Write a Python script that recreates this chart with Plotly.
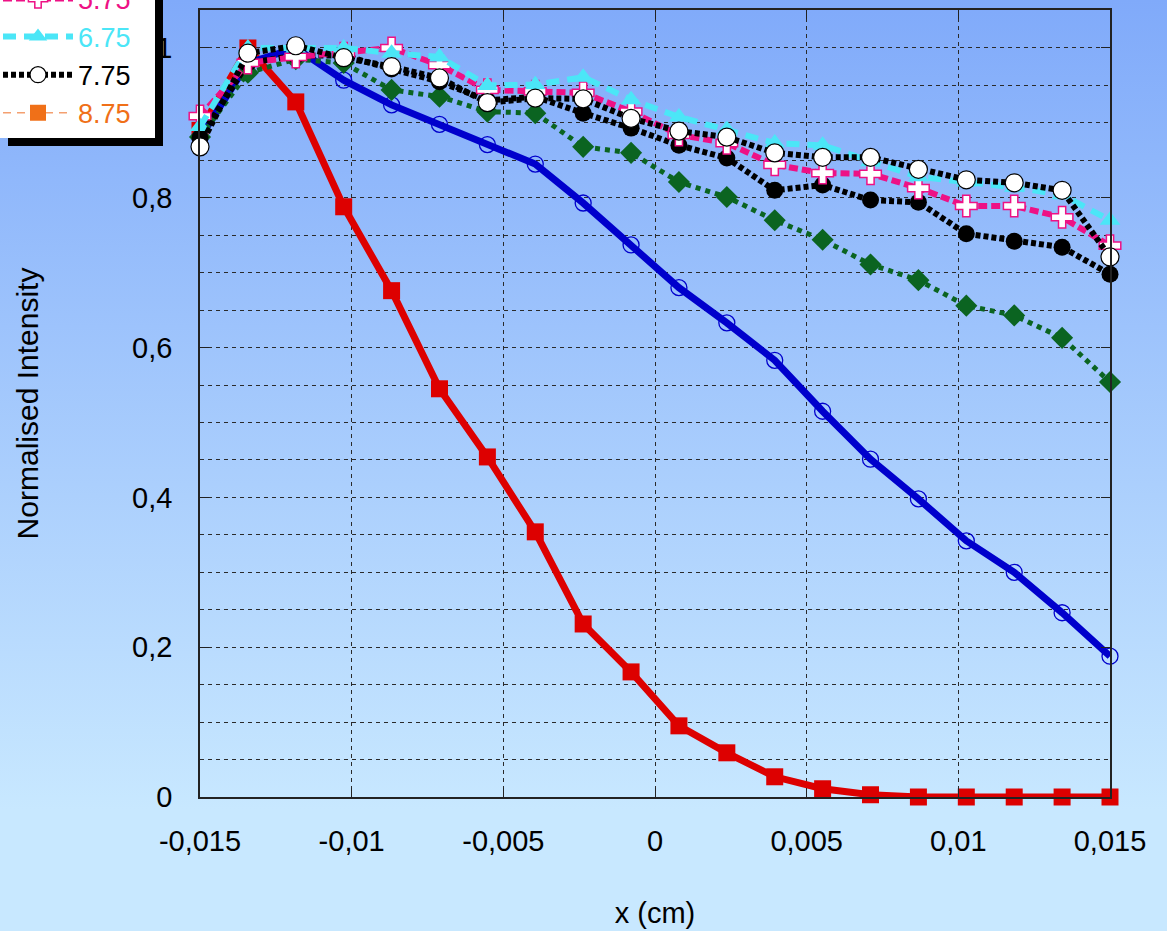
import base64
import plotly.graph_objects as go

# ---------------- data ----------------
x_cm = [-0.015, -0.013421, -0.011842, -0.010263, -0.008684, -0.007105, -0.005526,
        -0.003947, -0.002368, -0.000789, 0.000789, 0.002368, 0.003947, 0.005526,
        0.007105, 0.008684, 0.010263, 0.011842, 0.013421, 0.015]

series_names = ["1.75", "2.75", "3.75", "4.75", "5.75", "6.75", "7.75", "8.75"]

s_175 = [0.89, 1.0, 0.928, 0.788, 0.676, 0.545, 0.454, 0.354, 0.231, 0.167,
         0.095, 0.059, 0.027, 0.011, 0.003, 0.0, 0.0, 0.0, 0.0, 0.0]
s_275 = [0.88, 0.98, 1.0, 0.957, 0.924, 0.898, 0.871, 0.845, 0.793, 0.737,
         0.680, 0.633, 0.583, 0.515, 0.451, 0.398, 0.342, 0.300, 0.246, 0.188]
s_375 = [0.881, 0.967, 0.985, 0.98, 0.944, 0.935, 0.915, 0.913, 0.868, 0.860,
         0.821, 0.801, 0.770, 0.744, 0.711, 0.690, 0.656, 0.643, 0.613, 0.554]
s_475 = [0.88, 0.98, 0.99, 0.99, 0.972, 0.955, 0.93, 0.935, 0.913, 0.893,
         0.870, 0.853, 0.810, 0.817, 0.797, 0.794, 0.752, 0.742, 0.734, 0.698]
s_575 = [0.909, 0.98, 0.988, 0.993, 1.0, 0.977, 0.944, 0.942, 0.940, 0.915,
         0.884, 0.873, 0.844, 0.833, 0.832, 0.813, 0.789, 0.789, 0.774, 0.736]
s_675 = [0.895, 1.0, 1.0, 1.0, 0.993, 0.988, 0.95, 0.951, 0.961, 0.931,
         0.908, 0.891, 0.873, 0.870, 0.848, 0.828, 0.821, 0.814, 0.804, 0.770]
s_775 = [0.868, 0.993, 1.003, 0.987, 0.975, 0.960, 0.927, 0.933, 0.932, 0.906,
         0.889, 0.881, 0.860, 0.854, 0.854, 0.838, 0.824, 0.820, 0.810, 0.721]
s_875 = [None, None, None, None, None, None, None, None, None, None,
         None, None, None, None, None, None, None, None, None, None]

x_tickvals = [-0.015, -0.01, -0.005, 0.0, 0.005, 0.01, 0.015]
x_ticktext = ["-0,015", "-0,01", "-0,005", "0", "0,005", "0,01", "0,015"]
y_tickvals = [0.0, 0.2, 0.4, 0.6, 0.8, 1.0]
y_ticktext = ["0", "0,2", "0,4", "0,6", "0,8", "1"]

# ---------------- layout geometry ----------------
W, H = 1167, 931
ML, MR, MT, MB = 200, 57, 10, 134
PW, PH = W - ML - MR, H - MT - MB


def px_x(p):
    return (p - ML) / PW


def px_y(p):
    return (H - MB - p) / PH


FONT = "Liberation Sans, Arial, sans-serif"

PINK = "#EE1185"
CYAN = "#4BE6F7"
ORANGE = "#F07018"

styles = [
    dict(line=dict(color="#DD0000", width=7), marker=dict(symbol="square", size=17, color="#DD0000")),
    dict(line=dict(color="#0000CC", width=7),
         marker=dict(symbol="circle-open", size=16, color="#0000CC", line=dict(width=1.3, color="#0000CC"))),
    dict(line=dict(color="#0B6421", width=5, dash="5px,5px"),
         marker=dict(symbol="diamond", size=17, color="#0B6421")),
    dict(line=dict(color="#000000", width=6, dash="5px,3px"),
         marker=dict(symbol="circle", size=17, color="#000000")),
    dict(line=dict(color=PINK, width=6, dash="9px,4px"),
         marker=dict(symbol="cross", size=18, color="#FFFFFF", line=dict(width=1.5, color=PINK))),
    dict(line=dict(color=CYAN, width=6, dash="13px,8px"),
         marker=dict(symbol="triangle-up", size=18, color=CYAN)),
    dict(line=dict(color="#000000", width=6, dash="5px,3px"),
         marker=dict(symbol="circle", size=18, color="#FFFFFF", line=dict(width=1.2, color="#000000"))),
    dict(line=dict(color="#F4A070", width=1.5, dash="8px,6px"),
         marker=dict(symbol="square", size=16, color=ORANGE)),
]
text_colors = ["#DD0000", "#0000CC", "#0B6421", "#000000", PINK, CYAN, "#000000", ORANGE]
all_series = [s_175, s_275, s_375, s_475, s_575, s_675, s_775, s_875]

fig = go.Figure()
for name, ys, st, tc in zip(series_names, all_series, styles, text_colors):
    fig.add_trace(go.Scatter(
        x=x_cm, y=ys, mode="lines+markers",
        name=f"<span style='color:{tc}'>{name}</span>",
        line=st["line"], marker=st["marker"], cliponaxis=False,
        hoverinfo="skip",
    ))

# background gradient as an SVG image
svg = (
    f"<svg xmlns='http://www.w3.org/2000/svg' width='{W}' height='{H}'>"
    "<defs><linearGradient id='g' x1='0' y1='0' x2='0' y2='1'>"
    "<stop offset='0' stop-color='#80AAFA'/>"
    "<stop offset='0.87' stop-color='#C8E8FF'/>"
    "<stop offset='1' stop-color='#C8E8FF'/>"
    "</linearGradient></defs>"
    f"<rect width='{W}' height='{H}' fill='url(#g)'/></svg>"
)
src = "data:image/svg+xml;base64," + base64.b64encode(svg.encode()).decode()

grid_kw = dict(gridcolor="#2a2a2a", gridwidth=1, griddash="4px,4px")

fig.update_layout(
    width=W, height=H,
    margin=dict(l=ML, r=MR, t=MT, b=MB, pad=0, autoexpand=False),
    paper_bgcolor="#C8E8FF",
    plot_bgcolor="rgba(0,0,0,0)",
    font=dict(family=FONT, size=29, color="#000000"),
    images=[dict(source=src, xref="paper", yref="paper",
                 x=px_x(0), y=px_y(0), sizex=W / PW, sizey=H / PH,
                 xanchor="left", yanchor="top", sizing="stretch", layer="below")],
    xaxis=dict(
        range=[-0.015, 0.015], tickvals=x_tickvals, ticktext=x_ticktext,
        showgrid=True, **grid_kw, zeroline=False,
        showline=True, linecolor="#222222", linewidth=1.5, mirror="ticks",
        ticks="inside", ticklen=9, tickcolor="#222222", tickwidth=1.2,
        ticklabelstandoff=17,
        title=dict(text="x (cm)", font=dict(size=29), standoff=47),
    ),
    yaxis=dict(
        range=[0, 1.0507], tickvals=y_tickvals, ticktext=y_ticktext,
        showgrid=True, **grid_kw, zeroline=False,
        showline=True, linecolor="#222222", linewidth=1.5, mirror="ticks",
        ticks="inside", ticklen=9, tickcolor="#222222", tickwidth=1.2,
        ticklabelstandoff=20,
        minor=dict(dtick=0.05, tick0=0, showgrid=True, **grid_kw, ticks=""),
        title=dict(text="Normalised Intensity", font=dict(size=30), standoff=85),
    ),
    legend=dict(
        x=px_x(-2), y=px_y(137), xanchor="left", yanchor="bottom",
        bgcolor="rgba(0,0,0,0)", borderwidth=0,
        font=dict(family=FONT, size=27),
        itemwidth=70, tracegroupgap=0, traceorder="normal",
    ),
    shapes=[
        dict(type="rect", xref="paper", yref="paper", layer="above",
             x0=px_x(8), x1=px_x(163), y0=px_y(-60), y1=px_y(146),
             fillcolor="#000000", line=dict(width=0)),
        dict(type="rect", xref="paper", yref="paper", layer="above",
             x0=px_x(-10), x1=px_x(155), y0=px_y(-60), y1=px_y(138),
             fillcolor="#FFFFFF", line=dict(width=0)),
    ],
)

fig.write_html("out.html")
